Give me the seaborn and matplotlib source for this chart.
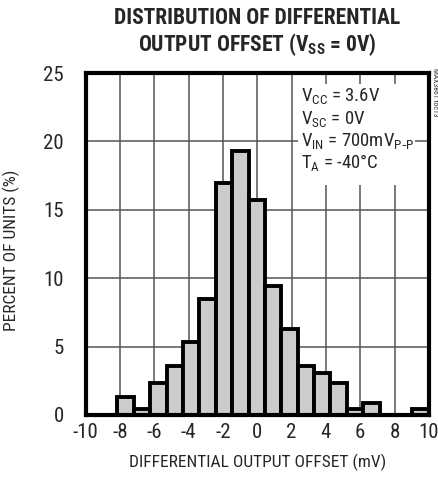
import numpy as np
import pandas as pd
import seaborn as sns
import matplotlib.pyplot as plt
from matplotlib import font_manager
from matplotlib.patches import Rectangle

# histogram bins (mV) and percent of units per bin
bin_edges = np.linspace(-8.16, 10.0, 20)
percent = [1.3, 0.4, 2.3, 3.6, 5.3, 8.5, 17.0, 19.3, 15.7, 9.4,
           6.3, 3.6, 3.1, 2.3, 0.4, 0.9, 0.0, 0.0, 0.4]
bin_centers = (bin_edges[:-1] + bin_edges[1:]) / 2

x_ticks = list(range(-10, 11, 2))
y_ticks = list(range(0, 26, 5))
conditions = ["$V_{CC}$ = 3.6V", "$V_{SC}$ = 0V",
              "$V_{IN}$ = 700m$V_{P\\text{-}P}$", "$T_{A}$ = -40°C"]

df = pd.DataFrame({"offset": bin_centers, "percent": percent})

# pick a condensed sans face if one is installed
installed = {f.name for f in font_manager.fontManager.ttflist}
narrow = next((n for n in ["Roboto Condensed", "Liberation Sans Narrow",
                           "Archivo Narrow", "Barlow Condensed",
                           "Barlow Semi Condensed", "Sofia Sans Condensed"]
               if n in installed), "Liberation Sans")

sns.set_style("white")
plt.rcParams['font.family'] = [narrow, 'DejaVu Sans']
plt.rcParams['mathtext.default'] = 'regular'
plt.rcParams['axes.unicode_minus'] = False

fig = plt.figure(figsize=(4.38, 4.78), dpi=100)
ax = fig.add_axes([0.196, 0.132, 0.783, 0.715])

sns.histplot(data=df, x="offset", weights="percent", bins=list(bin_edges), ax=ax,
             color="#cccccc", alpha=1.0, edgecolor="black", linewidth=2.8,
             zorder=3)

ax.set_xlim(-10, 10)
ax.set_ylim(0, 25)
ax.set_xticks(x_ticks)
ax.set_yticks(y_ticks)
ax.tick_params(length=0, labelsize=15, pad=6)
ax.tick_params(axis='y', pad=16)
ax.grid(True, color="#555555", linewidth=1.1, zorder=0)
ax.set_axisbelow(True)
for s in ax.spines.values():
    s.set_linewidth(3)
    s.set_color("black")
    s.set_zorder(5)

ax.set_xlabel("DIFFERENTIAL OUTPUT OFFSET (mV)", fontsize=12.5, labelpad=8)
ax.set_ylabel("PERCENT OF UNITS (%)", fontsize=12.5)
ax.yaxis.set_label_coords(-0.192, 0.482)

fig.text(0.587, 0.985, "DISTRIBUTION OF DIFFERENTIAL\nOUTPUT OFFSET ($V_{SS}$ = 0V)",
         ha="center", va="top", fontsize=15.5, fontweight="bold", linespacing=1.1)

# white box behind the conditions text
ax.add_patch(Rectangle((2.4, 16.8), 6.8, 7.4, facecolor="white",
                       edgecolor="none", zorder=2))
for i, t in enumerate(conditions):
    ax.text(2.55, 23.3 - i * 1.62, t, fontsize=13.5, va="center", ha="left",
            zorder=4)

fig.text(0.993, 0.808, "MAX3861 toc13", rotation=-90, fontsize=5.5,
         ha="center", va="center", color="#333333")

fig.savefig("out.png", dpi=100)
